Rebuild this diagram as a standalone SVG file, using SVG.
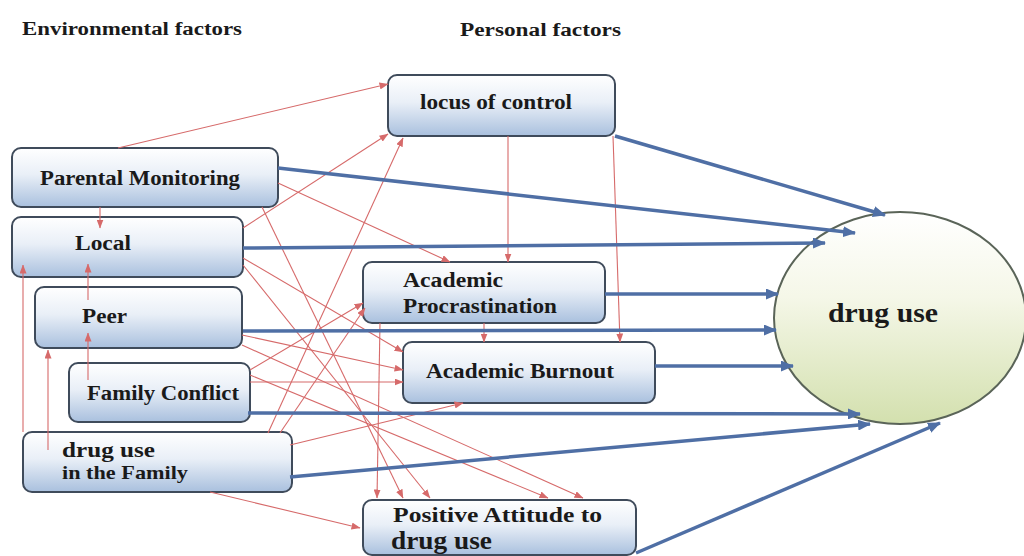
<svg xmlns="http://www.w3.org/2000/svg" width="1024" height="556" viewBox="0 0 1024 556">
<defs>
<linearGradient id="boxg" x1="0" y1="0" x2="0" y2="1">
<stop offset="0" stop-color="#ffffff"/>
<stop offset="0.45" stop-color="#e9eff7"/>
<stop offset="1" stop-color="#a9c0de"/>
</linearGradient>
<linearGradient id="ellg" x1="0" y1="0" x2="0" y2="1">
<stop offset="0" stop-color="#ffffff"/>
<stop offset="0.4" stop-color="#f5f7e8"/>
<stop offset="1" stop-color="#d3e0ae"/>
</linearGradient>
<marker id="ab" markerUnits="userSpaceOnUse" markerWidth="13" markerHeight="11" refX="12" refY="5.5" orient="auto">
<path d="M0,0 L13,5.5 L0,11 z" fill="#4f6fa5"/>
</marker>
<marker id="ar" markerUnits="userSpaceOnUse" markerWidth="9" markerHeight="7" refX="8.5" refY="3.5" orient="auto">
<path d="M0,0 L9,3.5 L0,7 z" fill="#d66a6a"/>
</marker>
</defs>
<style>
.box{fill:url(#boxg);stroke:#3f4b5b;stroke-width:2}
.t{font-family:"Liberation Serif","Times New Roman",serif;font-weight:bold;fill:#1a1a1a}
.blue{fill:none;stroke:#4f6fa5;stroke-width:3.5;marker-end:url(#ab)}
.red{fill:none;stroke:#d66a6a;stroke-width:1.1;marker-end:url(#ar)}
</style>
<rect width="1024" height="556" fill="#ffffff"/>
<text class="t" x="22" y="35" font-size="18" textLength="220" lengthAdjust="spacingAndGlyphs">Environmental factors</text>
<text class="t" x="460" y="36" font-size="18" textLength="161" lengthAdjust="spacingAndGlyphs">Personal factors</text>

<g id="n-drug-use">
<ellipse cx="900" cy="318" rx="126" ry="106" fill="url(#ellg)" stroke="#5a6458" stroke-width="2"/>
<text class="t" x="828" y="322" font-size="28" textLength="110" lengthAdjust="spacingAndGlyphs">drug use</text>
</g>
<g id="n-parental">
<rect class="box" x="12" y="148" width="266" height="59" rx="9"/>
<text class="t" x="40" y="185" font-size="20" textLength="200" lengthAdjust="spacingAndGlyphs">Parental Monitoring</text>
</g>
<g id="n-local">
<rect class="box" x="12" y="217" width="231" height="60" rx="9"/>
<text class="t" x="75" y="250" font-size="20" textLength="56" lengthAdjust="spacingAndGlyphs">Local</text>
</g>
<g id="n-peer">
<rect class="box" x="35" y="287" width="207" height="61" rx="9"/>
<text class="t" x="82" y="323" font-size="20" textLength="45" lengthAdjust="spacingAndGlyphs">Peer</text>
</g>
<g id="n-family-conflict">
<rect class="box" x="69" y="363" width="181" height="59" rx="9"/>
<text class="t" x="87" y="400" font-size="20" textLength="152" lengthAdjust="spacingAndGlyphs">Family Conflict</text>
</g>
<g id="n-drug-family">
<rect class="box" x="23" y="432" width="269" height="60" rx="9"/>
<text class="t" x="62" y="457" font-size="21" textLength="93" lengthAdjust="spacingAndGlyphs">drug use</text>
<text class="t" x="62" y="479" font-size="19" textLength="126" lengthAdjust="spacingAndGlyphs">in the Family</text>
</g>
<g id="n-locus">
<rect class="box" x="388" y="75" width="227" height="61" rx="9"/>
<text class="t" x="420" y="109" font-size="20" textLength="152" lengthAdjust="spacingAndGlyphs">locus of control</text>
</g>
<g id="n-procrastination">
<rect class="box" x="363" y="262" width="242" height="61" rx="9"/>
<text class="t" x="403" y="287" font-size="20" textLength="100" lengthAdjust="spacingAndGlyphs">Academic</text>
<text class="t" x="403" y="313" font-size="20" textLength="154" lengthAdjust="spacingAndGlyphs">Procrastination</text>
</g>
<g id="n-burnout">
<rect class="box" x="403" y="342" width="252" height="61" rx="9"/>
<text class="t" x="426" y="378" font-size="20" textLength="188" lengthAdjust="spacingAndGlyphs">Academic Burnout</text>
</g>
<g id="n-attitude">
<rect class="box" x="363" y="500" width="273" height="55" rx="9"/>
<text class="t" x="393" y="522" font-size="21" textLength="209" lengthAdjust="spacingAndGlyphs">Positive Attitude to</text>
<text class="t" x="391" y="549" font-size="26" textLength="101" lengthAdjust="spacingAndGlyphs">drug use</text>
</g>

<g id="connectors">
<path class="red" d="M118,148 L388,84"/>
<path class="red" d="M100,207 L100,228"/>
<path class="red" d="M88,300 L88,264"/>
<path class="red" d="M88,380 L88,333"/>
<path class="red" d="M23,432 L23,265"/>
<path class="red" d="M48,450 L48,350"/>
<path class="red" d="M508,136 L508,262"/>
<path class="red" d="M613,136 L620,342"/>
<path class="red" d="M484,323 L484,342"/>
<path class="red" d="M380,323 L377,498"/>
<path class="red" d="M243,228 L388,134"/>
<path class="red" d="M268,433 L403,138"/>
<path class="red" d="M278,183 L450,262"/>
<path class="red" d="M262,207 L403,498"/>
<path class="red" d="M243,265 L430,498"/>
<path class="red" d="M242,345 L583,498"/>
<path class="red" d="M250,375 L548,498"/>
<path class="red" d="M290,445 L463,403"/>
<path class="red" d="M210,492 L360,528"/>
<path class="red" d="M243,258 L403,352"/>
<path class="red" d="M242,335 L403,370"/>
<path class="red" d="M250,382 L403,382"/>
<path class="red" d="M280,433 L365,308"/>
<path class="red" d="M250,370 L363,303"/>
<path class="blue" d="M615,136 L885,215"/>
<path class="blue" d="M278,168 L855,233"/>
<path class="blue" d="M243,248 L825,243"/>
<path class="blue" d="M605,294 L778,294"/>
<path class="blue" d="M243,331 L776,330"/>
<path class="blue" d="M655,366 L793,366"/>
<path class="blue" d="M248,413 L860,414"/>
<path class="blue" d="M290,477 L870,424"/>
<path class="blue" d="M636,553 L940,423"/>
</g>
</svg>
